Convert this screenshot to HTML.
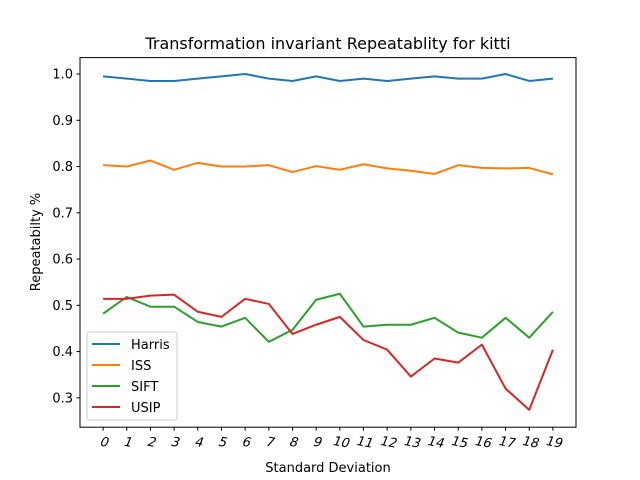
<!DOCTYPE html>
<html><head><meta charset="utf-8"><style>html,body{margin:0;padding:0;background:#fff}svg{display:block;font-family:"DejaVu Sans","Liberation Sans",sans-serif}</style></head>
<body>
<svg id="chart" width="640" height="480" xmlns="http://www.w3.org/2000/svg">
<rect width="640" height="480" fill="#fff"/>
<text x="328" y="49" font-size="16" text-anchor="middle">Transformation invariant Repeatablity for kitti</text>
<text x="328" y="472" font-size="13" text-anchor="middle">Standard Deviation</text>
<text transform="translate(40,242) rotate(-90)" font-size="13" text-anchor="middle">Repeatabilty %</text>
<g id="grid"></g><g id="series"></g>
<rect x="80" y="57.6" width="496" height="369.6" fill="none" stroke="#000" stroke-width="1"/>
<g id="legend"></g>
</svg>
<script>
const categories=[0,1,2,3,4,5,6,7,8,9,10,11,12,13,14,15,16,17,18,19];
const yTicks=[0.3,0.4,0.5,0.6,0.7,0.8,0.9,1.0];
const seriesNames=["Harris","ISS","SIFT","USIP"];
const harris=[0.995,0.99,0.985,0.985,0.99,0.995,1.0,0.99,0.985,0.995,0.985,0.99,0.985,0.99,0.995,0.99,0.99,1.0,0.985,0.99];
const iss=[0.803,0.800,0.813,0.793,0.808,0.800,0.800,0.803,0.788,0.801,0.793,0.805,0.796,0.791,0.784,0.803,0.797,0.796,0.797,0.783];
const sift=[0.482,0.518,0.497,0.497,0.464,0.454,0.473,0.421,0.447,0.512,0.525,0.454,0.458,0.458,0.473,0.441,0.430,0.473,0.430,0.486];
const usip=[0.514,0.514,0.521,0.523,0.486,0.475,0.514,0.503,0.438,0.458,0.475,0.425,0.404,0.346,0.385,0.376,0.415,0.320,0.274,0.404];
const colors=["#1f77b4","#ff7f0e","#2ca02c","#d62728"];
const NS="http://www.w3.org/2000/svg";
const L=80,R=576,T=57.6,B=427.2;
const xMin=-0.975,xMax=19.975,yMin=0.2365,yMax=1.0355;
const xs=v=>L+(v-xMin)/(xMax-xMin)*(R-L);
const ys=v=>B-(v-yMin)/(yMax-yMin)*(B-T);
function mk(tag,attrs,parent){const e=document.createElementNS(NS,tag);for(const k in attrs)e.setAttribute(k,attrs[k]);parent.appendChild(e);return e;}
const grid=document.getElementById('grid');
yTicks.forEach(v=>{const y=ys(v);
 const t=mk('line',{x1:L-3.5,x2:L,y1:y,y2:y,stroke:'#000'},grid);
 
 
 const tx=mk('text',{x:L-7,y:y+4.5,'font-size':13,'text-anchor':'end'},grid);tx.textContent=v.toFixed(1);
 
 
});
categories.forEach(c=>{const x=xs(c);
 const t=mk('line',{x1:x,x2:x,y1:B,y2:B+3.5,stroke:'#000'},grid);
 
 
 const tx=mk('text',{x:0,y:0,'font-size':13,'text-anchor':'middle',transform:`translate(${x},${B+19}) rotate(10) skewX(-12)`},grid);tx.textContent=c;
 
 
});
const sg=document.getElementById('series');
[harris,iss,sift,usip].forEach((d,i)=>{
 const p=mk('polyline',{points:d.map((v,j)=>xs(categories[j])+','+ys(v)).join(' '),fill:'none',stroke:colors[i],'stroke-width':2,'stroke-linejoin':'round'},sg);
 
 
});
const lg=document.getElementById('legend');
const box=mk('rect',{x:87,y:332,width:90,height:88,rx:3,fill:'#fff','fill-opacity':0.8,stroke:'#ccc'},lg);


seriesNames.forEach((n,i)=>{const y=344+i*21;
 const l=mk('line',{x1:92,x2:120,y1:y,y2:y,stroke:colors[i],'stroke-width':2},lg);
 
 
 const t=mk('text',{x:131,y:y+5,'font-size':13},lg);t.textContent=n;
 
 
});
</script>
</body></html>
